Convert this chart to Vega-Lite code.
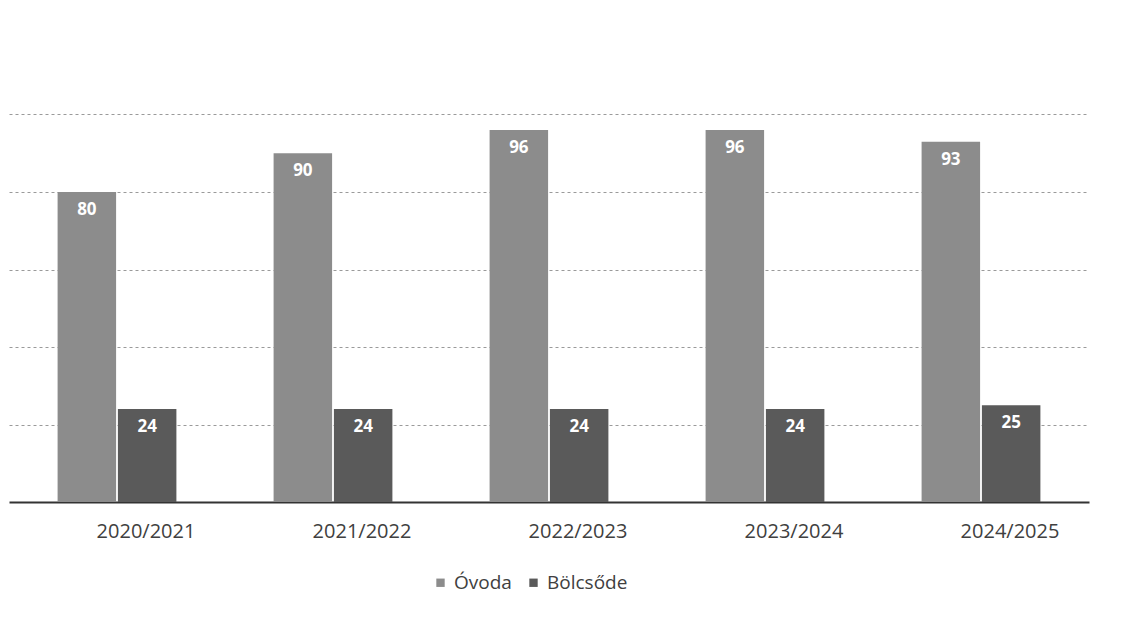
{
  "$schema": "https://vega.github.io/schema/vega-lite/v6.json",
  "width": 1080,
  "height": 465,
  "autosize": "none",
  "padding": {"left": 9, "top": 37, "right": 53, "bottom": 116},
  "background": "white",
  "config": {"view": {"stroke": null}, "font": "Open Sans"},
  "data": {
    "values": [
      {"ev": "2020/2021", "tipus": "Óvoda", "letszam": 80},
      {"ev": "2020/2021", "tipus": "Bölcsőde", "letszam": 24},
      {"ev": "2021/2022", "tipus": "Óvoda", "letszam": 90},
      {"ev": "2021/2022", "tipus": "Bölcsőde", "letszam": 24},
      {"ev": "2022/2023", "tipus": "Óvoda", "letszam": 96},
      {"ev": "2022/2023", "tipus": "Bölcsőde", "letszam": 24},
      {"ev": "2023/2024", "tipus": "Óvoda", "letszam": 96},
      {"ev": "2023/2024", "tipus": "Bölcsőde", "letszam": 24},
      {"ev": "2024/2025", "tipus": "Óvoda", "letszam": 93},
      {"ev": "2024/2025", "tipus": "Bölcsőde", "letszam": 25}
    ]
  },
  "encoding": {
    "x": {
      "field": "ev", "type": "nominal", "title": null,
      "scale": {"paddingInner": 0.45, "paddingOuter": 0.225},
      "axis": {"labelAngle": 0, "labelFontSize": 20, "labelColor": "#404040", "labelPadding": 19, "labelOffset": 29, "ticks": false, "domainColor": "#333333", "domainWidth": 2}
    },
    "xOffset": {"field": "tipus", "type": "nominal", "sort": ["Óvoda", "Bölcsőde"], "scale": {"paddingInner": 0.03}},
    "y": {
      "field": "letszam", "type": "quantitative", "title": null,
      "scale": {"domain": [0, 120]},
      "axis": {"values": [20, 40, 60, 80, 100], "labels": false, "ticks": false, "domain": false, "gridDash": [3, 3], "gridColor": "#9a9a9a", "gridWidth": 1}
    }
  },
  "layer": [
    {
      "mark": {"type": "bar"},
      "encoding": {
        "color": {
          "field": "tipus", "type": "nominal", "sort": ["Óvoda", "Bölcsőde"],
          "scale": {"domain": ["Óvoda", "Bölcsőde"], "range": ["#8c8c8c", "#5a5a5a"]},
          "legend": {"title": null, "orient": "none", "legendX": 422, "legendY": 536, "direction": "horizontal", "symbolType": "square", "symbolSize": 70, "labelFontSize": 19, "labelColor": "#404040", "columnPadding": 12}
        }
      }
    },
    {
      "mark": {"type": "text", "baseline": "top", "dy": 10, "fontSize": 17, "fontWeight": "bold", "color": "white"},
      "encoding": {"text": {"field": "letszam", "type": "quantitative"}}
    }
  ]
}
